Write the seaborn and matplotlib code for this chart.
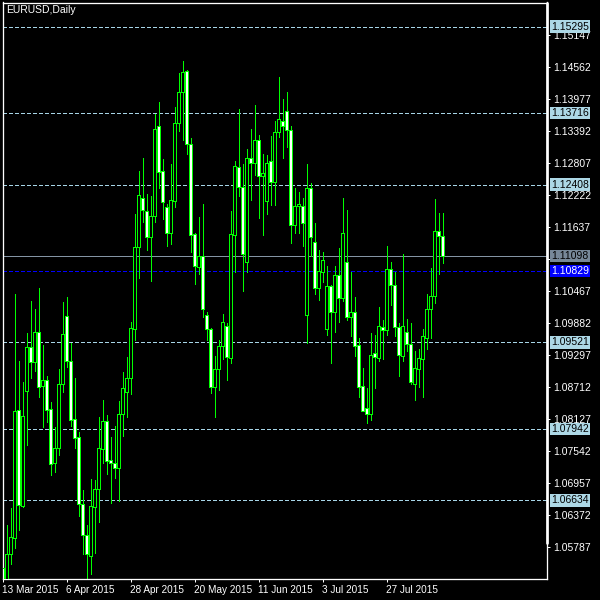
import numpy as np
import pandas as pd
import seaborn as sns
import matplotlib.pyplot as plt
from matplotlib import transforms

# daily EURUSD candles
opens = [1.0540, 1.0495, 1.0565, 1.0594, 1.0829, 1.0654, 1.0864, 1.0944, 1.0917, 1.0971,
         1.0873, 1.0883, 1.0830, 1.0731, 1.0760, 1.0877, 1.1000, 1.0919, 1.0812, 1.0779,
         1.0656, 1.0601, 1.0562, 1.0652, 1.0685, 1.0758, 1.0808, 1.0737, 1.0731, 1.0723,
         1.0822, 1.0861, 1.0888, 1.0976, 1.1127, 1.1217, 1.1192, 1.1144, 1.1184, 1.1347,
         1.1265, 1.1199, 1.1153, 1.1211, 1.1353, 1.1409, 1.1448, 1.1314, 1.1150, 1.1090,
         1.1111, 1.1003, 1.0976, 1.0870, 1.0903, 1.0946, 1.0982, 1.0924, 1.1148, 1.1272,
         1.1236, 1.1100, 1.1290, 1.1280, 1.1323, 1.1256, 1.1211, 1.1283, 1.1246, 1.1336,
         1.1356, 1.1375, 1.1340, 1.1166, 1.1202, 1.1201, 1.1003, 1.1234, 1.1136, 1.1051,
         1.1081, 1.0977, 1.1055, 1.1008, 1.1075, 1.1034, 1.1099, 1.0999, 1.1007, 1.0947,
         1.0872, 1.0832, 1.0822, 1.0932, 1.0923, 1.0980, 1.0974, 1.1086, 1.1058, 1.0981,
         1.0928, 1.0971, 1.0949, 1.0877, 1.0903, 1.0921, 1.0961, 1.1014, 1.1037, 1.1155,
         1.1147]
highs = [1.0621, 1.0618, 1.0649, 1.1040, 1.0918, 1.0880, 1.0969, 1.1028, 1.1013, 1.1052,
         1.0947, 1.0891, 1.0843, 1.0797, 1.0904, 1.1026, 1.1035, 1.0952, 1.0887, 1.0788,
         1.0682, 1.0618, 1.0702, 1.0701, 1.0815, 1.0847, 1.0819, 1.0779, 1.0799, 1.0845,
         1.0898, 1.0926, 1.0989, 1.1186, 1.1266, 1.1289, 1.1223, 1.1220, 1.1369, 1.1392,
         1.1287, 1.1205, 1.1278, 1.1383, 1.1445, 1.1467, 1.1450, 1.1326, 1.1152, 1.1181,
         1.1206, 1.1007, 1.0979, 1.0927, 1.0956, 1.1004, 1.0987, 1.1192, 1.1284, 1.1379,
         1.1278, 1.1305, 1.1343, 1.1386, 1.1331, 1.1297, 1.1295, 1.1330, 1.1357, 1.1437,
         1.1397, 1.1410, 1.1348, 1.1234, 1.1228, 1.1217, 1.1278, 1.1243, 1.1170, 1.1121,
         1.1117, 1.1092, 1.1057, 1.1092, 1.1124, 1.1216, 1.1195, 1.1081, 1.1035, 1.0961,
         1.0905, 1.0868, 1.0969, 1.0966, 1.1016, 1.0994, 1.1128, 1.1099, 1.1081, 1.0987,
         1.1114, 1.0995, 1.0987, 1.0936, 1.0941, 1.0977, 1.1041, 1.1088, 1.1214, 1.1189,
         1.1189]
lows = [1.0462, 1.0458, 1.0548, 1.0577, 1.0609, 1.0652, 1.0765, 1.0888, 1.0899, 1.0853,
        1.0798, 1.0807, 1.0710, 1.0716, 1.0746, 1.0862, 1.0908, 1.0800, 1.0760, 1.0635,
        1.0565, 1.0520, 1.0528, 1.0568, 1.0623, 1.0732, 1.0711, 1.0658, 1.0705, 1.0662,
        1.0782, 1.0816, 1.0857, 1.0957, 1.1069, 1.1173, 1.1121, 1.1065, 1.1173, 1.1235,
        1.1178, 1.1128, 1.1132, 1.1200, 1.1339, 1.1322, 1.1296, 1.1117, 1.1059, 1.1077,
        1.0999, 1.0957, 1.0860, 1.0816, 1.0865, 1.0922, 1.0883, 1.0914, 1.1080, 1.1220,
        1.1047, 1.1081, 1.1213, 1.1258, 1.1180, 1.1148, 1.1187, 1.1204, 1.1204, 1.1328,
        1.1290, 1.1309, 1.1133, 1.1153, 1.1153, 1.1129, 1.0952, 1.1110, 1.1041, 1.1030,
        1.1063, 1.0966, 1.0914, 1.0972, 1.0990, 1.1028, 1.0994, 1.0963, 1.0928, 1.0853,
        1.0826, 1.0805, 1.0810, 1.0868, 1.0918, 1.0922, 1.0966, 1.1021, 1.0964, 1.0891,
        1.0919, 1.0937, 1.0876, 1.0846, 1.0871, 1.0853, 1.0940, 1.0960, 1.1024, 1.1077,
        1.1097]
closes = [1.0500, 1.0565, 1.0596, 1.0827, 1.0655, 1.0817, 1.0943, 1.0916, 1.0971, 1.0871,
          1.0883, 1.0829, 1.0729, 1.0760, 1.0877, 1.0967, 1.0919, 1.0811, 1.0778, 1.0656,
          1.0601, 1.0565, 1.0653, 1.0685, 1.0759, 1.0809, 1.0736, 1.0731, 1.0723, 1.0822,
          1.0868, 1.0887, 1.0978, 1.1126, 1.1221, 1.1195, 1.1145, 1.1184, 1.1343, 1.1264,
          1.1208, 1.1153, 1.1212, 1.1354, 1.1409, 1.1446, 1.1314, 1.1148, 1.1092, 1.1111,
          1.1013, 1.0977, 1.0871, 1.0904, 1.0946, 1.0989, 1.0925, 1.1150, 1.1274, 1.1237,
          1.1114, 1.1290, 1.1281, 1.1323, 1.1256, 1.1261, 1.1281, 1.1246, 1.1336, 1.1360,
          1.1347, 1.1340, 1.1166, 1.1202, 1.1205, 1.1170, 1.1234, 1.1144, 1.1051, 1.1083,
          1.1102, 1.1055, 1.1008, 1.1075, 1.1034, 1.1153, 1.0999, 1.1007, 1.0946, 1.0871,
          1.0827, 1.0822, 1.0930, 1.0926, 1.0982, 1.0974, 1.1086, 1.1058, 1.0981, 1.0930,
          1.0982, 1.0949, 1.0879, 1.0905, 1.0923, 1.0963, 1.1014, 1.1037, 1.1155, 1.1147,
          1.1110]

level_lines = [1.15295, 1.13716, 1.12408, 1.09521, 1.07942, 1.06634]
bid_price = 1.11098
ask_price = 1.10829
price_ticks = [1.05787, 1.06372, 1.06957, 1.07542, 1.08127, 1.08712, 1.09297, 1.09882,
               1.10467, 1.11052, 1.11637, 1.12222, 1.12807, 1.13392, 1.13977, 1.14562, 1.15147]
date_ticks = [0, 16, 32, 48, 64, 80, 96]

df = pd.DataFrame({'Open': opens, 'High': highs, 'Low': lows, 'Close': closes})
df['Date'] = pd.bdate_range('2015-03-13', periods=len(df))
df['x'] = np.arange(len(df))
df['bottom'] = df[['Open', 'Close']].min(axis=1)
df['height'] = (df['Close'] - df['Open']).abs()
df['fill'] = np.where(df['Close'] >= df['Open'], 'black', 'white')

sns.set_theme(style='dark', rc={'axes.facecolor': 'black', 'figure.facecolor': 'black',
                                'axes.edgecolor': 'white', 'axes.grid': False})
plt.rcParams['font.family'] = ['Liberation Sans', 'DejaVu Sans']

PX = 0.72  # one pixel in points at 100 dpi
GREEN = '#00ff00'

fig = plt.figure(figsize=(6, 6), dpi=100)
ax = fig.add_axes([2.5 / 600, 21 / 600, 544.5 / 600, 576.5 / 600])

ax.vlines(df['x'], df['Low'], df['High'], color=GREEN, lw=PX, zorder=2, antialiased=False)
ax.bar(df['x'], df['height'], bottom=df['bottom'], width=0.55, color=df['fill'],
       edgecolor=GREEN, linewidth=PX, zorder=3, antialiased=False)

for lv in level_lines:
    ax.axhline(lv, color='#a6d4e6', lw=1.0, dashes=(2.2, 1.5), zorder=1, antialiased=False)
ax.axhline(bid_price, color='#8494a4', lw=PX, zorder=1, antialiased=False)
ax.axhline(ask_price, color='#0000ff', lw=1.0, dashes=(2.2, 1.5), zorder=1, antialiased=False)

ax.set_xlim(0, 136.125)
ax.set_ylim(1.05197, 1.15735)

# price scale on the right; the 1.11052 label sits under the bid box
ax.yaxis.tick_right()
ax.set_yticks(price_ticks)
ax.set_yticklabels(['' if p == 1.11052 else f'{p:.5f}' for p in price_ticks])
ax.tick_params(axis='y', colors='white', length=2.2, width=PX, pad=2, labelsize=7.5,
               direction='out', left=False, right=True)

ax.set_xticks(date_ticks)
ax.set_xticklabels([f"{d.day} {d.strftime('%b %Y')}" for d in df['Date'].iloc[date_ticks]])
ax.tick_params(axis='x', colors='white', length=2.5, width=PX, pad=2, labelsize=7.2,
               direction='out', bottom=True)
for lab in ax.get_xticklabels():
    lab.set_ha('left')

for s in ax.spines.values():
    s.set_color('white')
    s.set_linewidth(PX * 1.3)
ax.axvline(136.125, ymin=36 / 576.5, ymax=1, color='white', lw=2.7 * PX, clip_on=False, zorder=5)

trans = transforms.blended_transform_factory(ax.transAxes, ax.transData)
boxes = [(lv, '#add8e6', 'black') for lv in level_lines]
boxes += [(bid_price, '#778899', 'black'), (ask_price, '#0000ff', 'white')]
for lv, bg, fg in boxes:
    ax.annotate(f'{lv:.5f}', xy=(1, lv), xycoords=trans, xytext=(3.0, 0),
                textcoords='offset points', va='center', ha='left', fontsize=7.5, color=fg,
                bbox=dict(boxstyle='square,pad=0.12', fc=bg, ec='none'),
                annotation_clip=False, zorder=10)

ax.text(0.0073, 0.9957, 'EURUSD,Daily', transform=ax.transAxes, va='top', ha='left',
        color='white', fontsize=7.5)

fig.savefig('out.png', dpi=100, facecolor='black')
